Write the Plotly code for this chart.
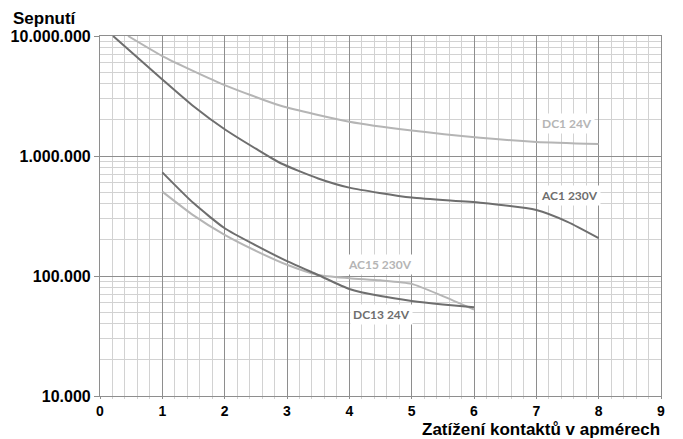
import plotly.graph_objects as go

# ---- data ----
dc1_x = [0.45, 1.0, 1.5, 2.0, 2.9, 4.0, 5.0, 6.1, 7.0, 8.0]
dc1_y = [10.0e6, 6.8e6, 5.1e6, 3.9e6, 2.62e6, 1.93e6, 1.63e6, 1.42e6, 1.31e6, 1.26e6]

ac1_x = [0.21, 1.0, 1.5, 2.0, 2.5, 2.9, 3.5, 4.0, 5.0, 6.1, 7.0, 7.5, 8.0]
ac1_y = [10.0e6, 4.35e6, 2.6e6, 1.67e6, 1.15e6, 870e3, 650e3, 545e3, 450e3, 408e3, 355e3, 283e3, 207e3]

dc13_x = [1.0, 1.5, 2.0, 2.5, 3.0, 3.5, 4.0, 4.5, 5.0, 5.5, 6.0]
dc13_y = [731e3, 405e3, 250e3, 180e3, 133e3, 102e3, 78e3, 68e3, 62e3, 58e3, 55e3]

ac15_x = [1.0, 1.5, 2.0, 2.5, 3.0, 3.5, 4.0, 4.5, 5.0, 5.5, 6.0]
ac15_y = [505e3, 320e3, 220e3, 162e3, 124e3, 102e3, 96e3, 92e3, 86e3, 68e3, 52.5e3]

y_tickvals = [1e4, 1e5, 1e6, 1e7]
y_ticktext = ["10.000", "100.000", "1.000.000", "10.000.000"]
x_tickvals = [0, 1, 2, 3, 4, 5, 6, 7, 8, 9]

DARK = "#6e6e6e"
LIGHT = "#b5b5b5"
MAJOR = "#8e8e8e"
MINOR = "#d2d2d2"
FONT = "Liberation Sans, Arial, sans-serif"
LFONT = "Lato, Liberation Sans, sans-serif"

fig = go.Figure()
for xs, ys, col in [(dc1_x, dc1_y, LIGHT), (ac1_x, ac1_y, DARK),
                    (ac15_x, ac15_y, LIGHT), (dc13_x, dc13_y, DARK)]:
    fig.add_trace(go.Scatter(x=xs, y=ys, mode="lines",
                             line=dict(color=col, width=2, shape="spline", smoothing=0.6),
                             showlegend=False, hoverinfo="skip"))

# page body has an 8px margin, so the figure is 8px smaller and margins shifted
fig.update_layout(
    width=675, height=431,
    margin=dict(l=92, r=22, t=28, b=43),
    plot_bgcolor="white", paper_bgcolor="white",
    showlegend=False,
    xaxis=dict(range=[0, 9], tickvals=x_tickvals, ticks="outside", ticklen=2,
               automargin=False,
               tickcolor=MAJOR, showgrid=True, gridcolor=MAJOR, gridwidth=1.2,
               showline=True, linecolor=MAJOR, linewidth=1.2, mirror=True, zeroline=False,
               tickfont=dict(family=FONT, size=14, color="black", weight="bold"),
               minor=dict(dtick=0.2, showgrid=True, gridcolor=MINOR, gridwidth=1.3,
                          ticks="outside", ticklen=2, tickcolor=MINOR),
               layer="below traces"),
    yaxis=dict(type="log", range=[4, 7], tickvals=y_tickvals, ticktext=y_ticktext,
               automargin=False,
               ticks="outside", ticklen=5, tickcolor=MAJOR,
               showgrid=True, gridcolor=MAJOR, gridwidth=1.2,
               showline=True, linecolor=MAJOR, linewidth=1.2, mirror=True, zeroline=False,
               tickfont=dict(family=FONT, size=16, color="black", weight="bold"),
               minor=dict(dtick="D1", showgrid=True, gridcolor=MINOR, gridwidth=1.3),
               layer="below traces"),
)

labels = [("DC1 24V", 7.49, 6.267, LIGHT), ("AC1 230V", 7.54, 5.675, DARK),
          ("AC15 230V", 4.49, 5.092, LIGHT), ("DC13 24V", 4.51, 4.683, DARK)]
for txt, x, y, col in labels:
    fig.add_annotation(x=x, y=y, xref="x", yref="y", text=txt, showarrow=False,
                       bgcolor="white", borderpad=2,
                       font=dict(family=LFONT, size=12, color=col, weight="bold"))

fig.add_annotation(x=-0.157, y=1.0778, xref="paper", yref="paper", xanchor="left",
                   yanchor="top", text="Sepnutí", showarrow=False, borderpad=0,
                   font=dict(family=FONT, size=17, color="black", weight="bold"))
fig.add_annotation(x=1.0, y=-0.0917, xref="paper", yref="paper", xanchor="right",
                   yanchor="middle", text="Zatížení kontaktů v apmérech", showarrow=False,
                   borderpad=0,
                   font=dict(family=FONT, size=17, color="black", weight="bold"))

fig.write_html("out.html")
